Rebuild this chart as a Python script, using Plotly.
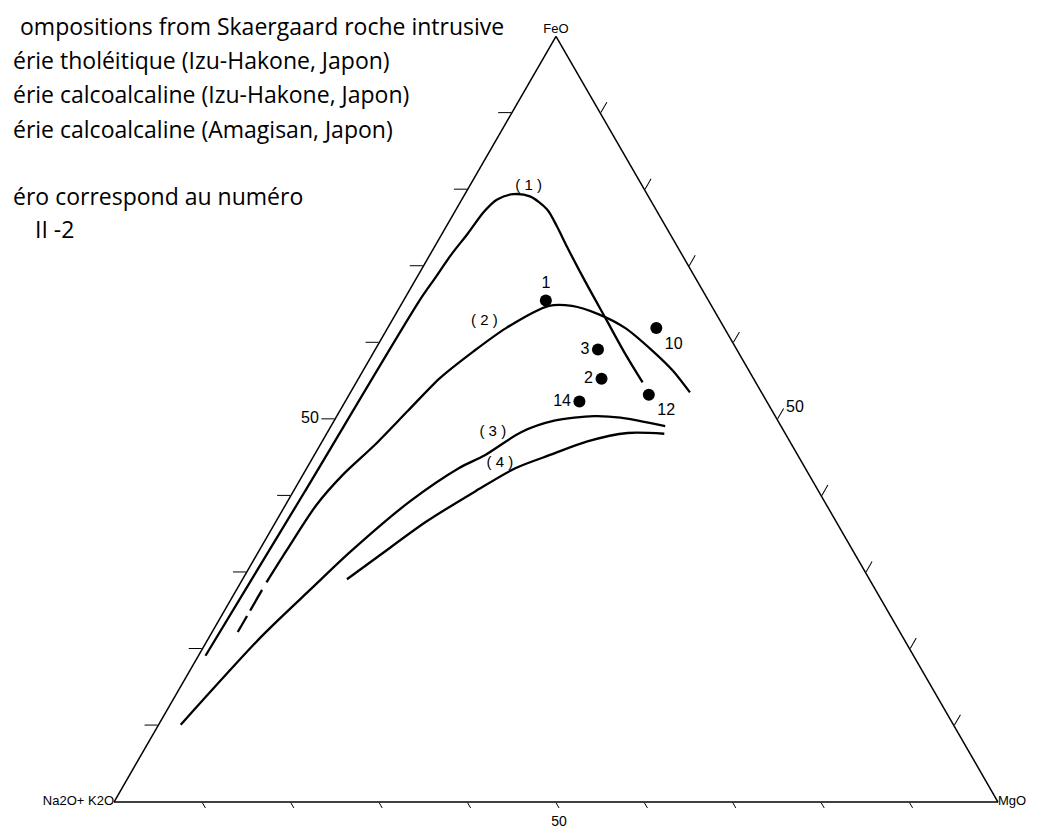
import plotly.graph_objects as go

# ---- data: ternary compositions in %, (FeO, Na2O+K2O, MgO) ----
# (1) Skaergaard trend
c1_feo = [19.1, 40.2, 65.4, 68.4, 71.5, 74.3, 77.1, 78.7, 79.4, 79.1, 77.4, 75.2, 72.4, 68.0, 63.2, 58.5, 54.8]
c1_alk = [80.1, 58.5, 32.8, 29.5, 26.1, 22.8, 19.6, 17.3, 15.1, 13.4, 12.3, 12.3, 12.5, 12.7, 12.8, 12.9, 12.8]
c1_mgo = [0.8, 1.3, 1.8, 2.1, 2.4, 2.9, 3.3, 4.0, 5.5, 7.5, 10.3, 12.5, 15.1, 19.3, 24.0, 28.6, 32.4]

# (2) tholeiitic series, Izu-Hakone (starts dashed)
c2_feo = [22.2, 24.3, None, 25.0, 27.7, None, 28.7, 33.0, 38.8, 42.7, 46.7, 51.1, 55.4, 58.8, 61.9, 64.8, 64.8, 63.7, 61.9, 58.9, 56.3, 53.5]
c2_alk = [74.9, 72.8, None, 72.1, 69.4, None, 68.4, 63.9, 57.7, 52.8, 47.1, 41.2, 35.4, 30.0, 24.7, 18.4, 15.8, 13.3, 11.2, 9.6, 8.6, 8.1]
c2_mgo = [2.9, 2.9, None, 2.9, 2.9, None, 2.9, 3.1, 3.5, 4.5, 6.2, 7.7, 9.2, 11.2, 13.4, 16.8, 19.4, 23.0, 26.9, 31.5, 35.1, 38.4]

# (3) calc-alkaline series, Izu-Hakone
c3_feo = [10.1, 21.7, 27.9, 32.7, 39.2, 43.6, 45.3, 48.3, 49.8, 50.4, 50.2, 49.1]
c3_alk = [87.4, 72.4, 63.7, 56.9, 47.0, 39.2, 35.4, 29.8, 25.3, 20.5, 17.6, 13.1]
c3_mgo = [2.5, 5.9, 8.4, 10.4, 13.8, 17.2, 19.3, 21.9, 24.9, 29.1, 32.2, 37.8]

# (4) calc-alkaline series, Amagisan
c4_feo = [29.1, 32.0, 36.6, 40.6, 43.6, 45.4, 47.1, 48.2, 48.1]
c4_alk = [59.1, 54.2, 46.4, 38.8, 32.8, 27.8, 22.9, 17.8, 13.7]
c4_mgo = [11.8, 13.8, 17.0, 20.6, 23.6, 26.8, 30.0, 34.0, 38.2]

# numbered samples
pt_labels = ["1", "10", "3", "2", "14", "12"]
pt_feo = [65.5, 61.9, 59.1, 55.3, 52.3, 53.2]
pt_alk = [18.4, 7.7, 15.7, 17.2, 21.2, 12.9]
pt_mgo = [16.1, 30.4, 25.2, 27.5, 26.5, 33.9]
pt_textpos = ["top center", "bottom right", "middle left", "middle left", "middle left", "bottom right"]

# curve labels
cl_text = ["( 1 )", "( 2 )", "( 3 )", "( 4 )"]
cl_feo = [80.4, 62.8, 48.3, 44.3]
cl_alk = [12.9, 26.7, 33.0, 34.2]
cl_mgo = [6.7, 10.5, 18.7, 21.5]

# axis ticks
tick_vals = [10, 20, 30, 40, 50, 60, 70, 80, 90]
tick_text = ["", "", "", "", "50", "", "", "", ""]

legend_lines = [
    "ompositions from Skaergaard roche intrusive",
    "érie tholéitique (Izu-Hakone, Japon)",
    "érie calcoalcaline (Izu-Hakone, Japon)",
    "érie calcoalcaline (Amagisan, Japon)",
    "éro correspond au numéro",
    "II -2",
]
legend_x = [10, 3, 3, 3, 3, 25]
legend_y = [18, 52, 86, 121, 188, 221]

W, H = 1037, 827
fig = go.Figure()

line_style = dict(color="black", width=2.3, shape="spline", smoothing=0.8)
for fa, al, mg in [(c1_feo, c1_alk, c1_mgo), (c2_feo, c2_alk, c2_mgo),
                   (c3_feo, c3_alk, c3_mgo), (c4_feo, c4_alk, c4_mgo)]:
    fig.add_trace(go.Scatterternary(a=fa, b=al, c=mg, mode="lines",
                                    line=line_style, connectgaps=False,
                                    hoverinfo="skip", showlegend=False))

fig.add_trace(go.Scatterternary(
    a=pt_feo, b=pt_alk, c=pt_mgo, mode="markers+text",
    text=pt_labels, textposition=pt_textpos,
    textfont=dict(family="Liberation Sans", size=16, color="black"),
    marker=dict(color="black", size=12, line=dict(width=0)),
    hoverinfo="skip", showlegend=False, cliponaxis=False))

fig.add_trace(go.Scatterternary(
    a=cl_feo, b=cl_alk, c=cl_mgo, mode="text", text=cl_text,
    textfont=dict(family="Liberation Sans", size=15, color="black"),
    hoverinfo="skip", showlegend=False, cliponaxis=False))

# vertex labels
fig.add_trace(go.Scatterternary(
    a=[100, 0, 0], b=[0, 100, 0], c=[0, 0, 100], mode="text",
    text=["FeO", "Na2O+ K2O", "MgO"],
    textposition=["top center", "middle left", "middle right"],
    textfont=dict(family="Liberation Sans", size=13, color="black"),
    hoverinfo="skip", showlegend=False, cliponaxis=False))


def axis(ticklen, fsize):
    return dict(
        showgrid=False, showline=True, linecolor="black", linewidth=1.5,
        ticks="outside", ticklen=ticklen, tickwidth=1.3, tickcolor="black",
        tickmode="array", tickvals=tick_vals, ticktext=tick_text,
        tickfont=dict(family="Liberation Sans", size=fsize, color="black"),
        title=dict(text=""),
    )


tri_w = 884
tri_h = tri_w * 3 ** 0.5 / 2
x0, ybot = 106, 794
fig.update_layout(
    width=W, height=H,
    margin=dict(l=0, r=0, t=0, b=0),
    paper_bgcolor="white", plot_bgcolor="white",
    ternary=dict(
        sum=100,
        bgcolor="white",
        domain=dict(x=[x0 / W, (x0 + tri_w) / W],
                    y=[(H - ybot) / H, (H - ybot + tri_h) / H]),
        aaxis=axis(13, 16), baxis=axis(6, 14), caxis=axis(12, 16),
    ),
)

for txt, px, py in zip(legend_lines, legend_x, legend_y):
    fig.add_annotation(x=px / W, y=1 - py / H, xref="paper", yref="paper",
                       xanchor="left", yanchor="middle", showarrow=False,
                       text=txt, font=dict(family="Open Sans", size=23, color="black"))

fig.write_html("out.html")
